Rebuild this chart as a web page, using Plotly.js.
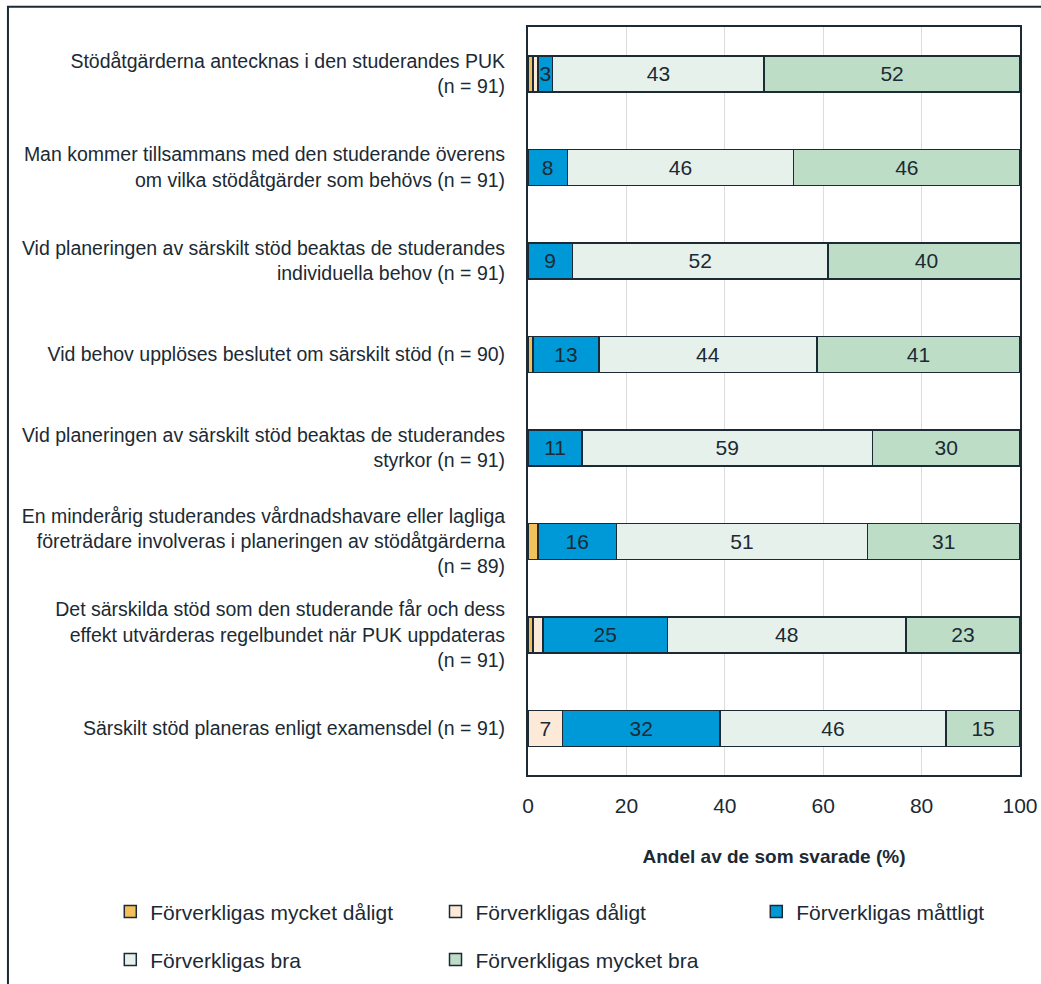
<!DOCTYPE html>
<html>
<head>
<meta charset="utf-8">
<script src="https://cdn.plot.ly/plotly-3.0.1.min.js"></script>
<style>html,body{margin:0;padding:0;background:#fff;}#chart{width:1041px;height:984px;}</style>
</head>
<body>
<div id="chart"></div>
<script>
const categories = [
  "Stödåtgärderna antecknas i den studerandes PUK<br>(n = 91)",
  "Man kommer tillsammans med den studerande överens<br>om vilka stödåtgärder som behövs (n = 91)",
  "Vid planeringen av särskilt stöd beaktas de studerandes<br>individuella behov (n = 91)",
  "Vid behov upplöses beslutet om särskilt stöd (n = 90)",
  "Vid planeringen av särskilt stöd beaktas de studerandes<br>styrkor (n = 91)",
  "En minderårig studerandes vårdnadshavare eller lagliga<br>företrädare involveras i planeringen av stödåtgärderna<br>(n = 89)",
  "Det särskilda stöd som den studerande får och dess<br>effekt utvärderas regelbundet när PUK uppdateras<br>(n = 91)",
  "Särskilt stöd planeras enligt examensdel (n = 91)"
];
const seriesNames = ["Förverkligas mycket dåligt","Förverkligas dåligt","Förverkligas måttligt","Förverkligas bra","Förverkligas mycket bra"];
const mycketDaligt = [1, 0, 0, 1, 0, 2, 1, 0];
const daligt       = [1, 0, 0, 0, 0, 0, 2, 7];
const mattligt     = [3, 8, 9, 13.4, 11, 16, 25.4, 32];
const bra          = [43, 46, 52, 44.3, 59, 51, 48.4, 46];
const mycketBra    = [52, 46, 40, 41.3, 30, 31, 23.2, 15];
const seriesValues = [mycketDaligt, daligt, mattligt, bra, mycketBra];
const colors = ["#F3C15C", "#FDE9D8", "#0099D8", "#E7F1EB", "#BEDDC7"];
const legendIds = ["legend","legend2","legend3","legend4","legend5"];

const FONT = '"Liberation Sans", Arial, sans-serif';
const DARK = '#1b2a34';

const traces = seriesValues.map((vals, i) => ({
  type: 'bar',
  orientation: 'h',
  name: seriesNames[i],
  y: categories,
  x: vals,
  text: vals.map(v => v >= 3 ? String(Math.round(v)) : ''),
  texttemplate: '%{text}',
  textposition: 'inside',
  insidetextanchor: 'middle',
  textangle: 0,
  constraintext: 'none',
  textfont: {family: FONT, size: 21, color: DARK},
  marker: {color: colors[i], line: {color: DARK, width: 1.5}},
  legend: legendIds[i],
  hoverinfo: 'x+name'
}));

function leg(x, y) {
  return {
    orientation: 'v', x: x, xanchor: 'left', y: y, yanchor: 'middle',
    font: {family: FONT, size: 21, color: DARK}, bgcolor: 'rgba(0,0,0,0)', borderwidth: 0
  };
}
const colX = [-0.849, -0.188, 0.464];
const rowY = [-0.183, -0.247];

const layout = {
  width: 1041, height: 984,
  margin: {l: 528, r: 21, t: 27, b: 209, autoexpand: false},
  paper_bgcolor: '#fff', plot_bgcolor: '#fff',
  font: {family: FONT, size: 19.5, color: DARK},
  barmode: 'stack',
  bargap: 0.615,
  xaxis: {
    range: [0, 100], dtick: 20, tick0: 0,
    showgrid: true, gridcolor: '#dcdcdc', gridwidth: 1,
    showline: true, mirror: true, linecolor: DARK, linewidth: 2,
    zeroline: false, ticks: '', ticklabelstandoff: 11,
    tickfont: {family: FONT, size: 21, color: DARK},
    title: {text: '<b>Andel av de som svarade (%)</b>', font: {family: FONT, size: 19, color: DARK}, standoff: 33}
  },
  yaxis: {
    autorange: 'reversed',
    showline: true, mirror: true, linecolor: DARK, linewidth: 2,
    showgrid: false, ticks: '', ticklabelstandoff: 17,
    tickfont: {family: FONT, size: 19.5, color: DARK}
  },
  legend:  leg(colX[0], rowY[0]),
  legend2: leg(colX[1], rowY[0]),
  legend3: leg(colX[2], rowY[0]),
  legend4: leg(colX[0], rowY[1]),
  legend5: leg(colX[1], rowY[1]),
  shapes: [{
    type: 'rect', xref: 'paper', yref: 'paper',
    x0: -1.057, x1: 1.06, y0: -0.36, y1: 1.027,
    line: {color: DARK, width: 2}, fillcolor: 'rgba(0,0,0,0)', layer: 'below'
  }],
  showlegend: true
};

Plotly.newPlot('chart', traces, layout, {displayModeBar: false, staticPlot: true});
</script>
</body>
</html>
